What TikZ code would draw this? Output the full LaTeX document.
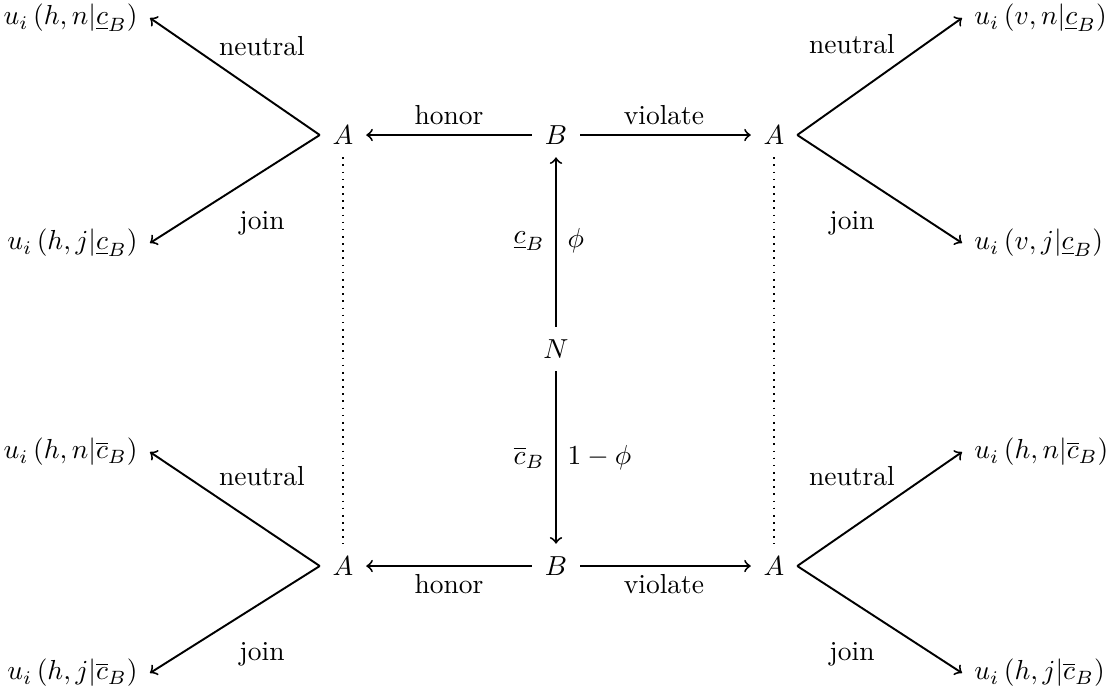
\documentclass[tikz,border=0pt]{standalone}
\begin{document}
\begin{tikzpicture}[x=0.3636pt,y=-0.3636pt,
  st/.style={inner sep=4.5pt},
  leafl/.style={anchor=east,inner xsep=4.3pt,inner ysep=1pt},
  leafr/.style={anchor=west,inner xsep=4.3pt,inner ysep=1pt},
  lab/.style={inner sep=0pt},
  conn/.style={line width=0.7pt},
  arr/.style={conn,->},
  dotline/.style={dotted,line width=0.6pt}]
\useasboundingbox (0,0) rectangle (1110,698);
% main nodes
\node[st] (A1) at (343,135) {$A$};
\node[st] (B1) at (556,135) {$B$};
\node[st] (A2) at (774,135) {$A$};
\node[st] (N)  at (556,349) {$N$};
\node[st] (A3) at (343,566) {$A$};
\node[st] (B2) at (556,566) {$B$};
\node[st] (A4) at (774,566) {$A$};
% leaves
\node[leafl] (L1) at (150,18)  {$u_i\left(h,n|\underline{c}_B\right)$};
\node[leafl] (L2) at (150,243) {$u_i\left(h,j|\underline{c}_B\right)$};
\node[leafl] (L3) at (150,452) {$u_i\left(h,n|\overline{c}_B\right)$};
\node[leafl] (L4) at (150,673) {$u_i\left(h,j|\overline{c}_B\right)$};
\node[leafr] (R1) at (962,18)  {$u_i\left(v,n|\underline{c}_B\right)$};
\node[leafr] (R2) at (962,243) {$u_i\left(v,j|\underline{c}_B\right)$};
\node[leafr] (R3) at (962,452) {$u_i\left(h,n|\overline{c}_B\right)$};
\node[leafr] (R4) at (962,673) {$u_i\left(h,j|\overline{c}_B\right)$};
% connectors
\draw[arr] (B1) -- (A1);
\draw[arr] (B1) -- (A2);
\draw[arr] (B2) -- (A3);
\draw[arr] (B2) -- (A4);
\draw[arr] (N) -- (B1);
\draw[arr] (N) -- (B2);
\draw[arr] (A1.west) -- (L1.east);
\draw[arr] (A1.west) -- (L2.east);
\draw[arr] (A3.west) -- (L3.east);
\draw[arr] (A3.west) -- (L4.east);
\draw[arr] (A2.east) -- (R1.west);
\draw[arr] (A2.east) -- (R2.west);
\draw[arr] (A4.east) -- (R3.west);
\draw[arr] (A4.east) -- (R4.west);
\draw[dotline] (A1) -- (A3);
\draw[dotline] (A2) -- (A4);
% labels
\node[lab] (n1) at (262,46)  {neutral};
\node[lab] (j1) at (262,223) {join};
\node[lab] (n3) at (262,476) {neutral};
\node[lab] (j3) at (262,654) {join};
\node[lab] (n2) at (852,44)  {neutral};
\node[lab] (j2) at (852,223) {join};
\node[lab] (n4) at (852,476) {neutral};
\node[lab] (j4) at (852,654) {join};
\node[lab] (h1) at (449,115) {honor};
\node[lab] (v1) at (664,115) {violate};
\node[lab] (h2) at (449,584) {honor};
\node[lab] (v2) at (664,584) {violate};
\node[lab,anchor=east] (c1) at (545,241) {$\underline{c}_B$};
\node[lab,anchor=west] (p1) at (567,241) {$\phi$};
\node[lab,anchor=east] (c2) at (545,458) {$\overline{c}_B$};
\node[lab,anchor=west] (p2) at (567,458) {$1-\phi$};
\end{tikzpicture}
\end{document}
